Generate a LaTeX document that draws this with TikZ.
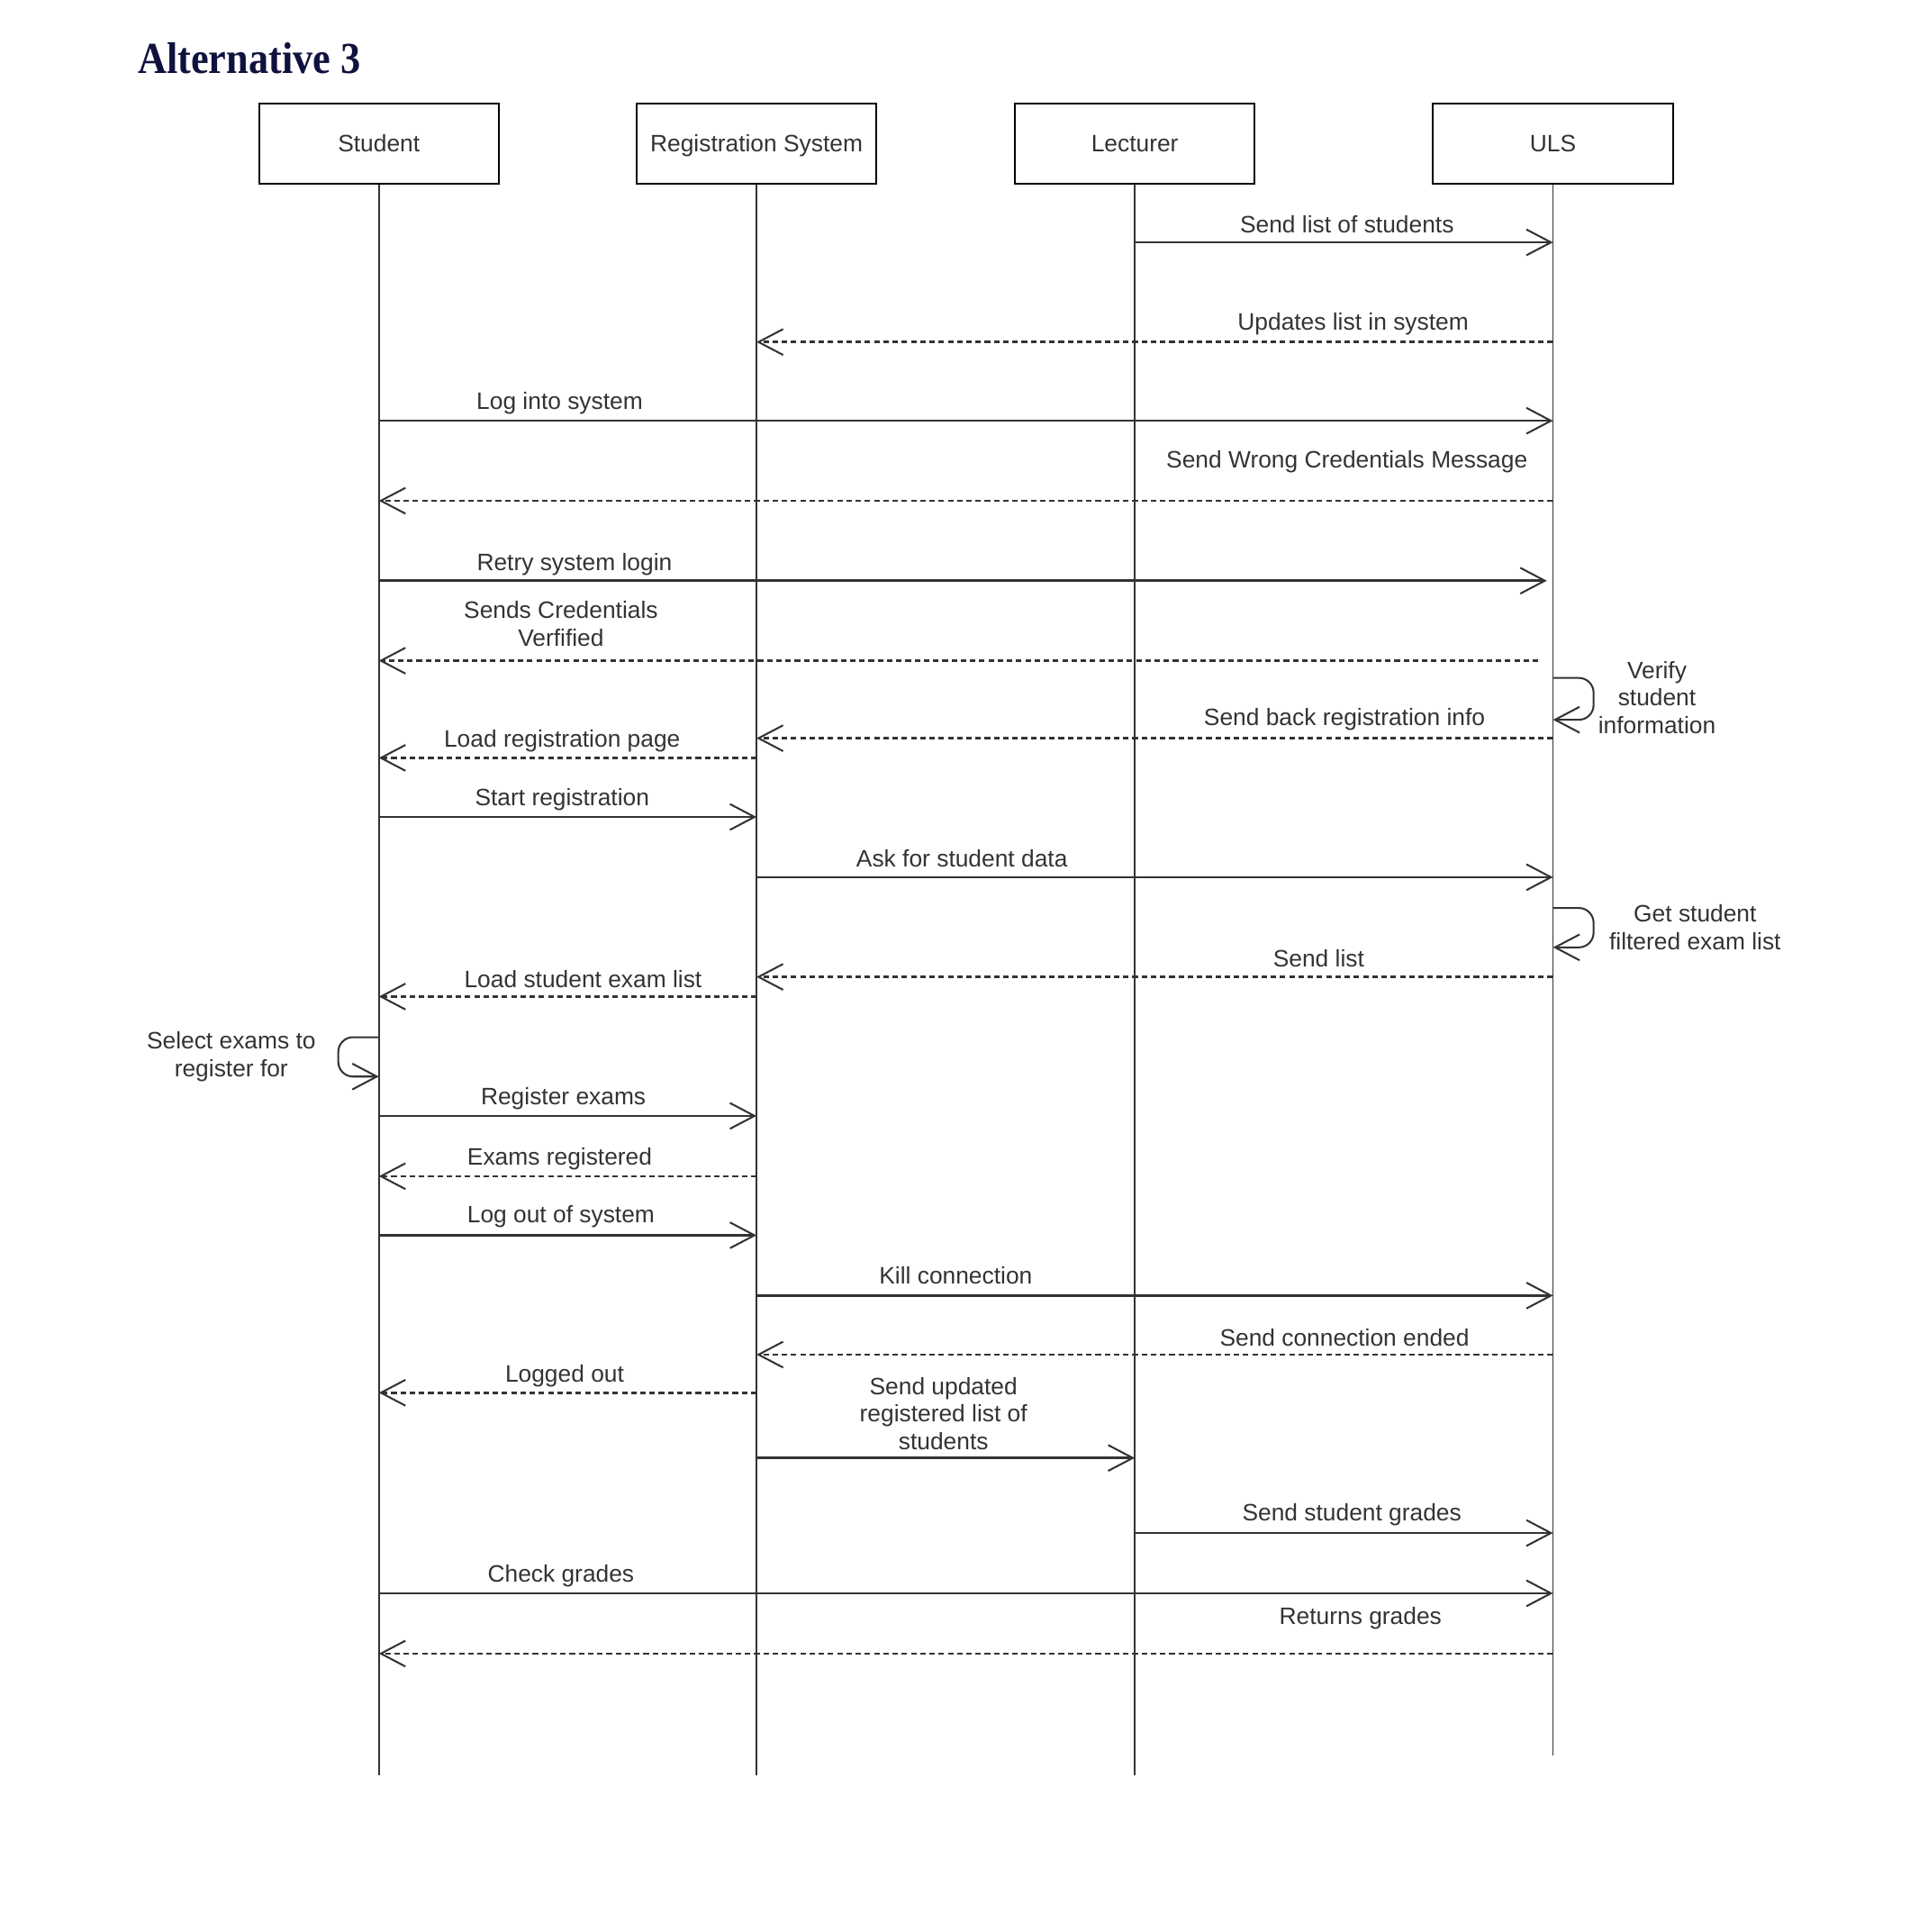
\documentclass[tikz,border=0pt]{standalone}
\usepackage{fontspec}
\setmainfont{Liberation Sans}
\newfontfamily\titlefont{Liberation Serif}
\usetikzlibrary{arrows.meta}
\definecolor{ink}{HTML}{333333}
\definecolor{titleblue}{HTML}{10123E}
\newcommand\lab{\fontsize{19.3}{22.6}\selectfont}
\tikzset{
  actor/.style={draw=black, line width=1.5pt, minimum width=195pt, minimum height=65pt, inner sep=0pt, text=ink, font=\lab, text height=13.8pt, text depth=0pt},
  life/.style={draw=ink, line width=1.2pt},
  call/.style={draw=ink, line width=1.9pt, -{Straight Barb[length=20pt,width=21pt,line width=1.5pt]}},
  reply/.style={call, dash pattern=on 4.5pt off 3pt},
  loopcall/.style={call, line width=1.5pt, rounded corners=12pt},
  lbl/.style={text=ink, font=\lab, align=center, inner sep=0pt},
}
\begin{document}
\begin{tikzpicture}[x=1pt,y=-1pt]
\useasboundingbox (0,0) rectangle (1560,1570.3);
% title
\node[anchor=base west, inner sep=0pt, text=titleblue] (title) at (112,60)
  {\titlefont\bfseries\fontsize{36}{40}\selectfont\scalebox{0.9}[1]{Alternative 3}};
% actors
\node[actor] (stu) at (308,116.5) {Student};
\node[actor] (reg) at (615,116.5) {Registration System};
\node[actor] (lec) at (922.5,116.5) {Lecturer};
\node[actor] (uls) at (1262.5,116.5) {ULS};
\coordinate (stuEnd) at (stu.south |- 0,1443);
\coordinate (regEnd) at (reg.south |- 0,1443);
\coordinate (lecEnd) at (lec.south |- 0,1443);
\coordinate (ulsEnd) at (uls.south |- 0,1427);
\draw[life] (stu.south) -- (stuEnd);
\draw[life] (reg.south) -- (regEnd);
\draw[life] (lec.south) -- (lecEnd);
\draw[life] (uls.south) -- (ulsEnd);
% messages
\draw[call] (lec |- 0,197) -- (uls |- 0,197);
\node[lbl] (l1) at (1095,182) {Send list of students};
\draw[reply] (uls |- 0,278) -- (reg |- 0,278);
\node[lbl] (l2) at (1100,263) {Updates list in system};
\draw[call] (stu |- 0,342) -- (uls |- 0,342);
\node[lbl] (l3) at (455,328) {Log into system};
\draw[reply] (uls |- 0,407) -- (stu |- 0,407);
\node[lbl] (l4) at (1095,375) {Send Wrong Credentials Message};
\draw[call, shorten >=5pt] (stu |- 0,472) -- (uls |- 0,472);
\node[lbl] (l5) at (467,459) {Retry system login};
\draw[reply, shorten <=12pt] (uls |- 0,537) -- (stu |- 0,537);
\node[lbl] (l6) at (456,507) {Sends Credentials\\Verfified};
\draw[loopcall] (uls |- 0,551) -- ++(33,0) -- ++(0,34) -- (uls |- 0,585);
\node[lbl] (l7) at (1347,567) {Verify\\student\\information};
\draw[reply] (uls |- 0,600) -- (reg |- 0,600);
\node[lbl] (l8) at (1093,585) {Send back registration info};
\draw[reply] (reg |- 0,616) -- (stu |- 0,616);
\node[lbl] (l9) at (457,602) {Load registration page};
\draw[call] (stu |- 0,664) -- (reg |- 0,664);
\node[lbl] (l10) at (457,650) {Start registration};
\draw[call] (reg |- 0,713) -- (uls |- 0,713);
\node[lbl] (l11) at (782,698) {Ask for student data};
\draw[loopcall] (uls |- 0,738) -- ++(33,0) -- ++(0,32) -- (uls |- 0,770);
\node[lbl] (l12) at (1378,754) {Get student\\filtered exam list};
\draw[reply] (uls |- 0,794) -- (reg |- 0,794);
\node[lbl] (l13) at (1072,779) {Send list};
\draw[reply] (reg |- 0,810) -- (stu |- 0,810);
\node[lbl] (l14) at (474,796) {Load student exam list};
\draw[loopcall] (stu |- 0,843) -- ++(-33,0) -- ++(0,32) -- (stu |- 0,875);
\node[lbl] (l15) at (188,859) {Select exams to\\register for};
\draw[call] (stu |- 0,907) -- (reg |- 0,907);
\node[lbl] (l16) at (458,893) {Register exams};
\draw[reply] (reg |- 0,956) -- (stu |- 0,956);
\node[lbl] (l17) at (455,942) {Exams registered};
\draw[call] (stu |- 0,1004) -- (reg |- 0,1004);
\node[lbl] (l18) at (456,989) {Log out of system};
\draw[call] (reg |- 0,1053) -- (uls |- 0,1053);
\node[lbl] (l19) at (777,1037) {Kill connection};
\draw[reply] (uls |- 0,1101) -- (reg |- 0,1101);
\node[lbl] (l20) at (1093,1087) {Send connection ended};
\draw[reply] (reg |- 0,1132) -- (stu |- 0,1132);
\node[lbl] (l21) at (459,1118) {Logged out};
\draw[call] (reg |- 0,1185) -- (lec |- 0,1185);
\node[lbl] (l22) at (767,1149) {Send updated\\registered list of\\students};
\draw[call] (lec |- 0,1246) -- (uls |- 0,1246);
\node[lbl] (l23) at (1099,1231) {Send student grades};
\draw[call] (stu |- 0,1295) -- (uls |- 0,1295);
\node[lbl] (l24) at (456,1281) {Check grades};
\draw[reply] (uls |- 0,1344) -- (stu |- 0,1344);
\node[lbl] (l25) at (1106,1315) {Returns grades};
\end{tikzpicture}
\end{document}
